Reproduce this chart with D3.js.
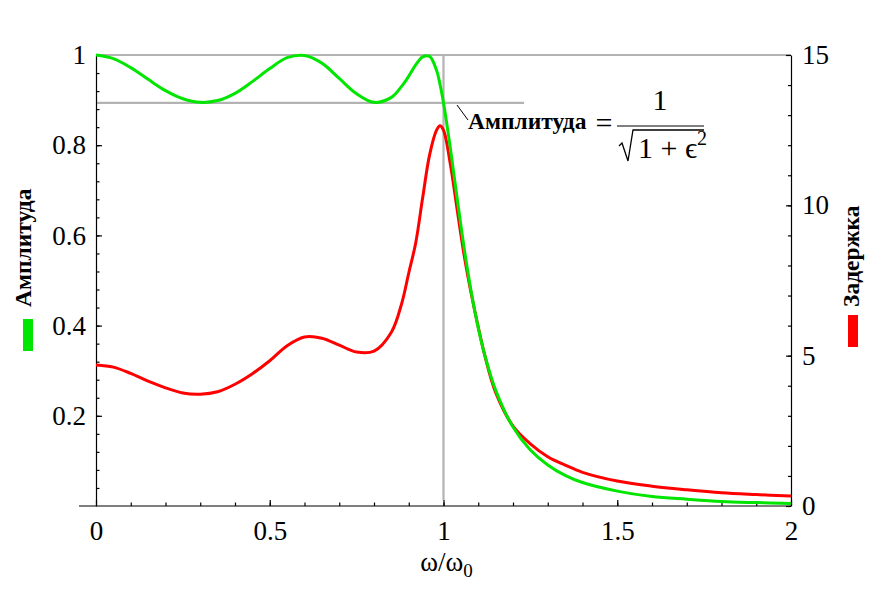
<!DOCTYPE html>
<html>
<head>
<meta charset="utf-8">
<script src="https://cdn.jsdelivr.net/npm/d3@7"></script>
<style>
  body { margin: 0; background: #fff; }
  svg { display: block; }
</style>
</head>
<body>
<svg id="chart" width="882" height="600"></svg>
<script>
// frequency points (omega / omega0)
const omega = [0, 0.05, 0.1, 0.15, 0.2, 0.25, 0.3, 0.35, 0.4, 0.45, 0.5, 0.55, 0.6, 0.65,
  0.7, 0.75, 0.8, 0.85, 0.88, 0.9, 0.92, 0.94, 0.96, 0.98, 0.99, 1.0, 1.02, 1.04, 1.06,
  1.08, 1.1, 1.12, 1.15, 1.2, 1.25, 1.3, 1.35, 1.4, 1.5, 1.6, 1.7, 1.8, 1.9, 2.0];

// amplitude (left axis)
const amplitude = [1, 0.992, 0.972, 0.946, 0.921, 0.903, 0.895, 0.899, 0.915, 0.941, 0.970,
  0.994, 0.999, 0.982, 0.948, 0.914, 0.895, 0.906, 0.931, 0.953, 0.978, 0.996, 0.997, 0.966,
  0.935, 0.894, 0.792, 0.678, 0.569, 0.474, 0.395, 0.331, 0.257, 0.175, 0.124, 0.091, 0.068,
  0.052, 0.033, 0.021, 0.015, 0.010, 0.0075, 0.0055];

// delay (right axis)
const delay = [4.69, 4.62, 4.41, 4.15, 3.93, 3.76, 3.72, 3.80, 4.05, 4.40, 4.83, 5.33, 5.62,
  5.58, 5.35, 5.12, 5.15, 5.78, 6.75, 7.75, 8.75, 10.25, 11.68, 12.50, 12.65, 12.50, 11.35,
  9.80, 8.30, 7.05, 5.95, 4.95, 3.78, 2.66, 2.07, 1.64, 1.36, 1.12, 0.83, 0.66, 0.54, 0.44,
  0.38, 0.33];

const xTicks = [0, 0.5, 1, 1.5, 2];
const leftTicks = [0.2, 0.4, 0.6, 0.8, 1];
const rightTicks = [0, 5, 10, 15];

const rippleLevel = 0.894; // 1/sqrt(1+eps^2)

const svg = d3.select("#chart");
const serif = "'Liberation Serif'";

const x = d3.scaleLinear().domain([0, 2]).range([96, 791]);
const yL = d3.scaleLinear().domain([0, 1]).range([506, 55]);
const yR = d3.scaleLinear().domain([0, 15]).range([506, 55]);

const gray = "#b3b3b3";
const green = "#00e600";
const red = "#ff0000";

// grey guide lines
svg.append("line")
  .attr("x1", x(0)).attr("x2", x(2))
  .attr("y1", yL(1)).attr("y2", yL(1))
  .attr("stroke", gray).attr("stroke-width", 2.2);
svg.append("line")
  .attr("x1", x(0)).attr("x2", x(1.232))
  .attr("y1", yL(rippleLevel)).attr("y2", yL(rippleLevel))
  .attr("stroke", gray).attr("stroke-width", 2.2);
svg.append("line")
  .attr("x1", x(1)).attr("x2", x(1))
  .attr("y1", yL(1)).attr("y2", yL(0) - 6)
  .attr("stroke", gray).attr("stroke-width", 2.2);

// axes
const fontSize = 27;

const bottom = svg.append("g").attr("transform", `translate(0,${yL(0)})`)
  .call(d3.axisBottom(x).tickValues(xTicks).tickFormat(d => String(d))
    .tickSizeInner(-6).tickSizeOuter(0).tickPadding(15));
bottom.select(".domain").remove();
bottom.append("g")
  .call(d3.axisBottom(x).tickValues(d3.range(0.1, 2, 0.1)).tickFormat("")
    .tickSizeInner(-3.5).tickSizeOuter(0))
  .select(".domain").remove();
svg.append("line")
  .attr("x1", x(0) - 17).attr("x2", x(2))
  .attr("y1", yL(0)).attr("y2", yL(0))
  .attr("stroke", "#000").attr("stroke-width", 1.2);

const left = svg.append("g").attr("transform", `translate(${x(0)},0)`)
  .call(d3.axisLeft(yL).tickValues(leftTicks).tickFormat(d => String(d))
    .tickSizeInner(-6).tickSizeOuter(0).tickPadding(10));
left.append("g")
  .call(d3.axisLeft(yL).tickValues(d3.range(0.04, 1, 0.04)).tickFormat("")
    .tickSizeInner(-3.5).tickSizeOuter(0))
  .select(".domain").remove();

const right = svg.append("g").attr("transform", `translate(${x(2)},0)`)
  .call(d3.axisRight(yR).tickValues(rightTicks).tickFormat(d => String(d))
    .tickSizeInner(-5).tickSizeOuter(0).tickPadding(11));
right.append("g")
  .call(d3.axisRight(yR).tickValues(d3.range(1, 15, 1)).tickFormat("")
    .tickSizeInner(-3).tickSizeOuter(0))
  .select(".domain").remove();

svg.selectAll(".tick text")
  .style("font-family", serif)
  .attr("font-size", fontSize)
  .attr("fill", "#000");
svg.selectAll(".domain, .tick line").attr("stroke", "#000").attr("stroke-width", 1.2);

// curves
const lineDelay = d3.line()
  .x((d, i) => x(omega[i]))
  .y(d => yR(d))
  .curve(d3.curveCatmullRom.alpha(0.5));
const lineAmp = d3.line()
  .x((d, i) => x(omega[i]))
  .y(d => yL(d))
  .curve(d3.curveCatmullRom.alpha(0.5));

svg.append("path").datum(delay)
  .attr("d", lineDelay)
  .attr("fill", "none").attr("stroke", red).attr("stroke-width", 3);
svg.append("path").datum(amplitude)
  .attr("d", lineAmp)
  .attr("fill", "none").attr("stroke", green).attr("stroke-width", 3);

// x label
const xl = svg.append("text")
  .attr("x", x(1) + 3).attr("y", 571)
  .attr("text-anchor", "middle")
  .style("font-family", serif)
  .attr("font-size", 27);
xl.append("tspan").text("ω/ω");
xl.append("tspan").attr("font-size", 19).attr("dy", 6).text("0");

// y labels with legend swatches
svg.append("text")
  .attr("transform", "translate(31,307) rotate(-90)")
  .style("font-family", serif)
  .attr("font-size", 23.5).attr("font-weight", "bold")
  .text("Амплитуда");
svg.append("rect")
  .attr("x", 23).attr("y", 319).attr("width", 10).attr("height", 32)
  .attr("fill", green);

svg.append("text")
  .attr("transform", "translate(859,307) rotate(-90)")
  .style("font-family", serif)
  .attr("font-size", 23.5).attr("font-weight", "bold")
  .text("Задержка");
svg.append("rect")
  .attr("x", 848).attr("y", 315).attr("width", 10).attr("height", 32)
  .attr("fill", red);

// annotation
svg.append("line")
  .attr("x1", 457).attr("y1", 105).attr("x2", 468).attr("y2", 120)
  .attr("stroke", "#000").attr("stroke-width", 1);
svg.append("text")
  .attr("x", 468).attr("y", 129)
  .style("font-family", serif)
  .attr("font-size", 23.5).attr("font-weight", "bold")
  .text("Амплитуда");
svg.append("text")
  .attr("x", 604).attr("y", 133)
  .attr("text-anchor", "middle")
  .style("font-family", serif)
  .attr("font-size", 30)
  .text("=");
svg.append("text")
  .attr("x", 660).attr("y", 110)
  .attr("text-anchor", "middle")
  .style("font-family", serif)
  .attr("font-size", 30)
  .text("1");
svg.append("line")
  .attr("x1", 617).attr("x2", 704).attr("y1", 126).attr("y2", 126)
  .attr("stroke", "#000").attr("stroke-width", 1);
// radical sign
svg.append("path")
  .attr("d", "M619,146 L622,143 L628,161 L633,130 L704,130")
  .attr("fill", "none").attr("stroke", "#000").attr("stroke-width", 1.3);
const den = svg.append("text")
  .attr("x", 638).attr("y", 158)
  .style("font-family", serif)
  .attr("font-size", 30);
den.append("tspan").text("1 + ϵ");
den.append("tspan").attr("font-size", 20).attr("dy", -13).text("2");
</script>
</body>
</html>
